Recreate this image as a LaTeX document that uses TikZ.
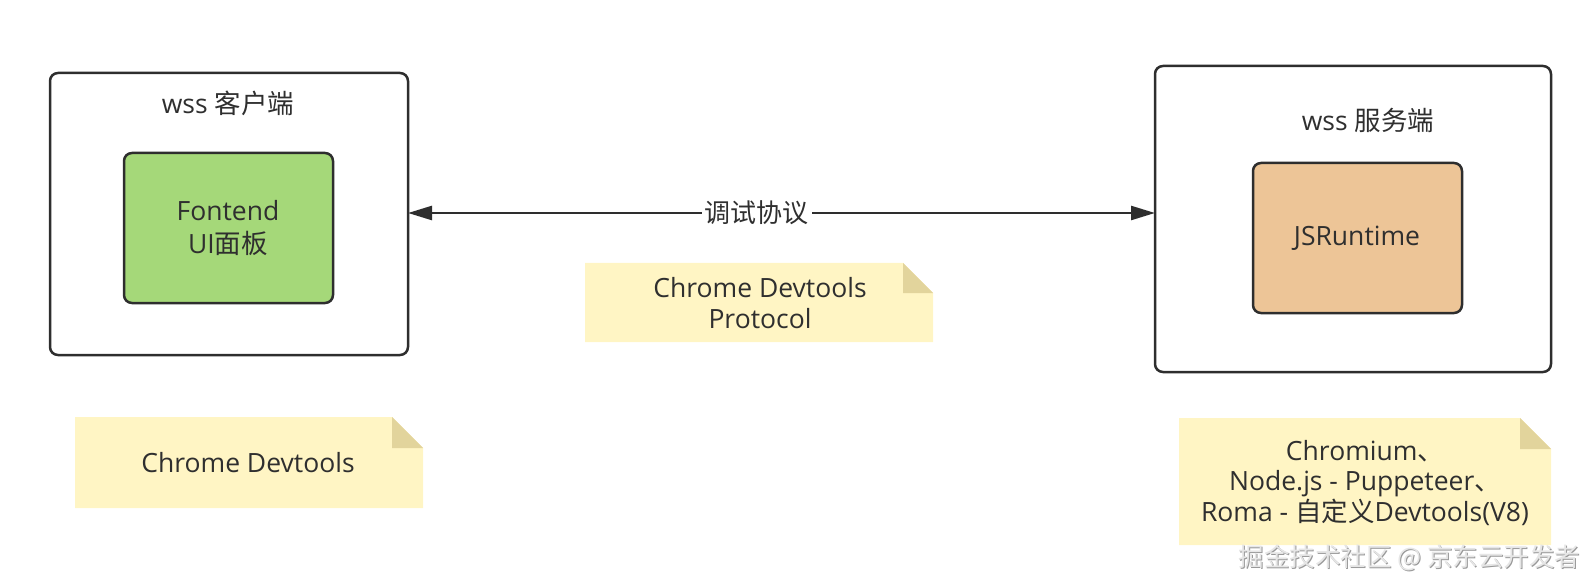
\documentclass[tikz,border=0pt]{standalone}
\usepackage{fontspec}
\setmainfont{Open Sans}
\newfontfamily\cjk{Noto Sans CJK SC}
\usetikzlibrary{arrows.meta}
\definecolor{txt}{HTML}{2F2F2F}
\definecolor{ln}{HTML}{2E2E2E}
\definecolor{greenfill}{HTML}{A5D879}
\definecolor{orangefill}{HTML}{EDC597}
\definecolor{notefill}{HTML}{FFF5C4}
\definecolor{foldfill}{HTML}{E2D49C}
\definecolor{wm}{HTML}{E6E6E6}
\tikzset{
  outerbox/.style={draw=ln, line width=2.5pt, rounded corners=8pt},
  innerbox/.style={draw=ln, line width=2.5pt, rounded corners=8pt},
  lbl/.style={text=txt, font=\fontsize{26.5}{33}\selectfont, align=center, inner sep=0pt},
  notetext/.style={text=txt, font=\fontsize{26.5}{30.5}\selectfont, align=center, inner sep=0pt},
  conn/.style={draw=ln, line width=2.5pt, {Triangle[length=24pt,width=14pt]}-{Triangle[length=24pt,width=14pt]}},
}
\newcommand{\stickynote}[5]{% x1 y1 x2 y2 fold
  \fill[notefill] (#1,#2) -- ({#3-#5},#2) -- (#3,{#2+#5}) -- (#3,#4) -- (#1,#4) -- cycle;
  \fill[foldfill] ({#3-#5},#2) -- ({#3-#5},{#2+#5}) -- (#3,{#2+#5}) -- cycle;
}
\begin{document}
\begin{tikzpicture}[x=1pt,y=-1pt]
\useasboundingbox (0,0) rectangle (1596,588);
% left client box
\draw[outerbox] (50,73) rectangle (408,355);
\coordinate (leftE) at (408,213);
\node[lbl] (ctitle) at (228,103) {wss {\cjk 客户端}};
\draw[innerbox, fill=greenfill] (124,153) rectangle (333,303);
\node[lbl] (front) at (228,228) {Fontend\\{UI\cjk 面板}};
% right server box
\draw[outerbox] (1155,66) rectangle (1551,372);
\coordinate (rightW) at (1155,213);
\node[lbl] (stitle) at (1368,120) {wss {\cjk 服务端}};
\draw[innerbox, fill=orangefill] (1253,163) rectangle (1462,313);
\node[lbl] (jsr) at (1357,238) {JSRuntime};
% connector
\draw[conn] (leftE) -- (rightW) node[pos=0.467, fill=white, inner xsep=3pt, inner ysep=2pt, text=txt, font=\fontsize{26}{30}\cjk] (proto) {调试协议};
% notes
\stickynote{585}{263}{933}{342}{30}
\node[notetext] (n1) at (760,303) {Chrome Devtools\\Protocol};
\stickynote{75}{417}{423}{508}{31}
\node[notetext] (n2) at (248,463) {Chrome Devtools};
\stickynote{1179}{418}{1551}{545}{31}
\node[notetext] (n3) at (1365,483) {Chromium{\cjk 、}\\Node.js - Puppeteer{\cjk 、}\\Roma - {\cjk 自定义}Devtools(V8)};
% watermark
\node[text=gray!80, font=\fontsize{25.5}{30}\cjk, inner sep=0pt] (wm0) at (1410.5,558.5) {掘金技术社区 @ 京东云开发者};
\node[text=wm, font=\fontsize{25.5}{30}\cjk, inner sep=0pt] (wm) at (1409.5,557.5) {掘金技术社区 @ 京东云开发者};
\end{tikzpicture}
\end{document}
